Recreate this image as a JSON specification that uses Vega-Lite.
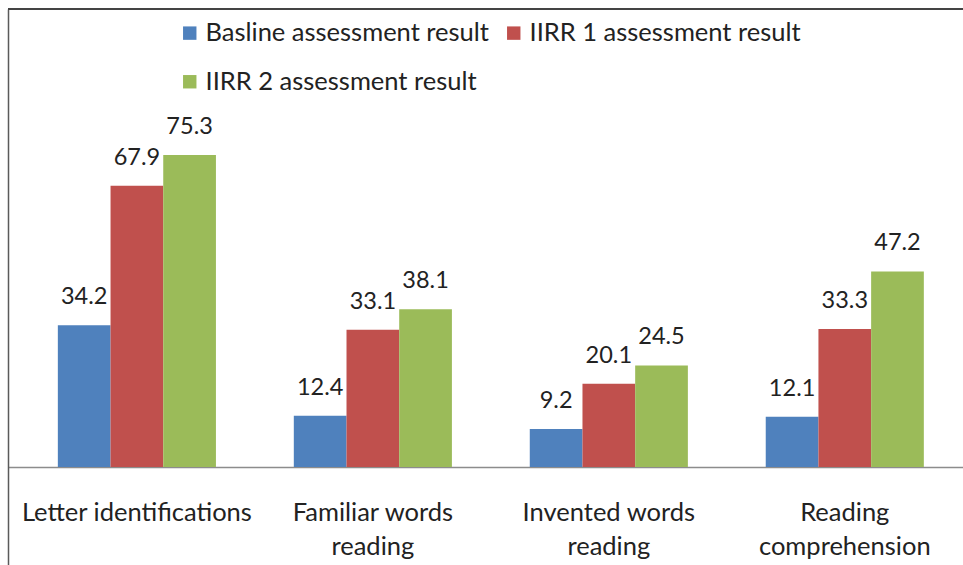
{
  "$schema": "https://vega.github.io/schema/vega-lite/v6.json",
  "width": 955,
  "height": 556,
  "autosize": "none",
  "padding": {"left": 8, "top": 9, "right": 0, "bottom": 0},
  "background": "white",
  "config": {"view": {"stroke": null}, "font": "Lato"},
  "data": {
    "values": [
      {"category": "Letter identifications", "series": "Basline assessment result", "value": 34.2},
      {"category": "Letter identifications", "series": "IIRR 1 assessment result", "value": 67.9},
      {"category": "Letter identifications", "series": "IIRR 2 assessment result", "value": 75.3},
      {"category": "Familiar words reading", "series": "Basline assessment result", "value": 12.4},
      {"category": "Familiar words reading", "series": "IIRR 1 assessment result", "value": 33.1},
      {"category": "Familiar words reading", "series": "IIRR 2 assessment result", "value": 38.1},
      {"category": "Invented words reading", "series": "Basline assessment result", "value": 9.2},
      {"category": "Invented words reading", "series": "IIRR 1 assessment result", "value": 20.1},
      {"category": "Invented words reading", "series": "IIRR 2 assessment result", "value": 24.5},
      {"category": "Reading comprehension", "series": "Basline assessment result", "value": 12.1},
      {"category": "Reading comprehension", "series": "IIRR 1 assessment result", "value": 33.3},
      {"category": "Reading comprehension", "series": "IIRR 2 assessment result", "value": 47.2}
    ]
  },
  "layer": [
    {
      "mark": {"type": "bar"},
      "encoding": {
        "x": {
          "field": "category", "type": "nominal",
          "sort": ["Letter identifications", "Familiar words reading", "Invented words reading", "Reading comprehension"],
          "scale": {"paddingInner": 0.33, "paddingOuter": 0.1886, "align": 0.56},
          "axis": {
            "title": null, "labelAngle": 0, "ticks": false,
            "domainColor": "#8c8c8c", "domainWidth": 1.5,
            "labelFont": "Lato", "labelFontSize": 25.5, "labelColor": "#222222",
            "labelPadding": 33, "labelLineHeight": 34, "offset": -98, "labelLimit": 0,
            "labelExpr": "datum.label == 'Letter identifications' ? datum.label : [slice(datum.label, 0, lastindexof(datum.label, ' ')), slice(datum.label, lastindexof(datum.label, ' ') + 1)]"
          }
        },
        "xOffset": {
          "field": "series", "type": "nominal",
          "sort": ["Basline assessment result", "IIRR 1 assessment result", "IIRR 2 assessment result"],
          "scale": {"paddingInner": 0, "paddingOuter": 0}
        },
        "y": {
          "field": "value", "type": "quantitative", "stack": null,
          "scale": {"domain": [-23.65, 110.54], "nice": false, "zero": false},
          "axis": {"orient": "left", "labels": false, "ticks": false, "grid": false, "title": null, "domainColor": "#5a5a5a", "domainWidth": 1.5}
        },
        "color": {
          "field": "series", "type": "nominal",
          "sort": ["Basline assessment result", "IIRR 1 assessment result", "IIRR 2 assessment result"],
          "scale": {"domain": ["Basline assessment result", "IIRR 1 assessment result", "IIRR 2 assessment result"], "range": ["#4F81BD", "#C0504D", "#9BBB59"]},
          "legend": {
            "orient": "none", "legendX": 169, "legendY": 11, "columns": 2, "direction": "horizontal", "title": null,
            "symbolType": "square", "symbolSize": 180, "symbolStrokeWidth": 0,
            "labelFont": "Lato", "labelFontSize": 25.5, "labelColor": "#222222",
            "rowPadding": 22, "columnPadding": 12, "labelOffset": 3, "labelLimit": 0
          }
        }
      }
    },
    {
      "mark": {"type": "text", "baseline": "alphabetic", "dy": -21, "fontSize": 23.5, "font": "Lato", "color": "#222222"},
      "encoding": {
        "x": {
          "field": "category", "type": "nominal",
          "sort": ["Letter identifications", "Familiar words reading", "Invented words reading", "Reading comprehension"]
        },
        "xOffset": {
          "field": "series", "type": "nominal",
          "sort": ["Basline assessment result", "IIRR 1 assessment result", "IIRR 2 assessment result"]
        },
        "y": {"field": "value", "type": "quantitative", "stack": null},
        "text": {"field": "value", "type": "quantitative", "format": ".1f"}
      }
    },
    {
      "data": {"values": [{}]},
      "mark": {"type": "rule", "color": "#444444", "strokeWidth": 2},
      "encoding": {"y": {"datum": 110.54}}
    }
  ]
}
